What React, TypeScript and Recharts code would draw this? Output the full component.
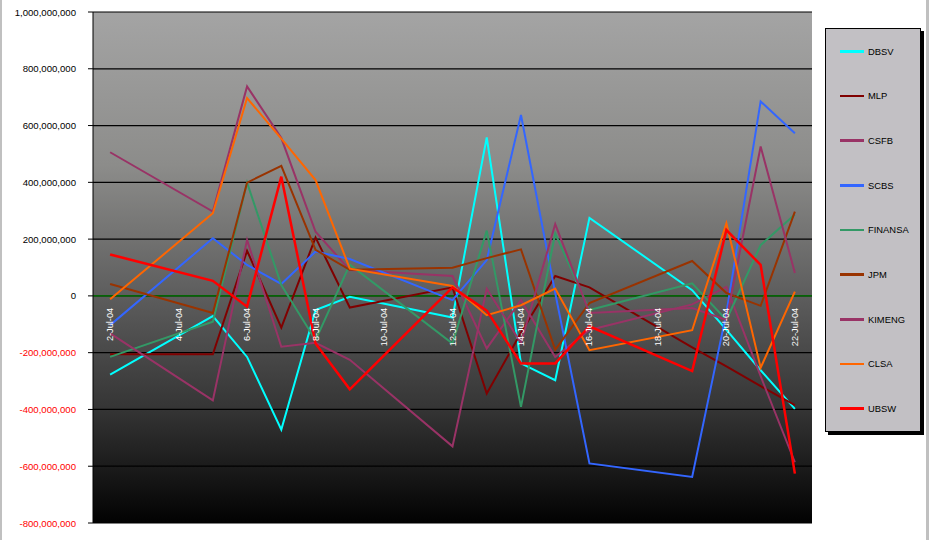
import { LineChart, Line, XAxis, YAxis, CartesianGrid, ReferenceLine } from 'recharts';

// trading days in July 2004
const days = [2, 5, 6, 7, 8, 9, 12, 13, 14, 15, 16, 19, 20, 21, 22];
const dayTicks = [2, 4, 6, 8, 10, 12, 14, 16, 18, 20, 22];
const yTicks = [-800000000, -600000000, -400000000, -200000000, 0, 200000000, 400000000, 600000000, 800000000, 1000000000];

// values, in millions
const dbsv = [-277, -71, -215, -471, -50, -3, -76, 558, -238, -297, 275, 20, -120, -262, -398];
const mlp = [-206, -206, 159, -112, 206, -41, 30, -344, -130, 70, 30, -181, -248, -318, -385];
const csfb = [506, 297, 738, 556, 226, 91, 70, -185, -15, -215, -120, -30, 32, -283, -586];
const scbs = [-103, 203, 109, 42, 156, 130, -15, 126, 637, 10, -590, -638, -60, 685, 573];
const finansa = [-215, -91, 399, 38, -156, 110, -168, 230, -391, 220, -50, 44, -85, 179, 287];
const jpm = [42, -60, 399, 458, 162, 92, 99, 133, 164, -190, -25, 123, 10, -35, 297];
const kimeng = [-132, -368, 197, -179, -165, -225, -530, 25, -166, 253, -60, -43, -85, 526, 81];
const clsa = [-12, 291, 697, 554, 408, 96, 35, -68, -33, 26, -191, -121, 256, -253, 15];
const ubsw = [146, 53, -38, 420, -168, -329, 30, -52, -238, -238, -107, -265, 232, 109, -626];

const series = [
  { key: 'DBSV', values: dbsv, color: '#00ffff', width: 2 },
  { key: 'MLP', values: mlp, color: '#800000', width: 2 },
  { key: 'CSFB', values: csfb, color: '#993366', width: 2 },
  { key: 'SCBS', values: scbs, color: '#3366ff', width: 2 },
  { key: 'FINANSA', values: finansa, color: '#339966', width: 2 },
  { key: 'JPM', values: jpm, color: '#993300', width: 2 },
  { key: 'KIMENG', values: kimeng, color: '#993366', width: 2 },
  { key: 'CLSA', values: clsa, color: '#ff6600', width: 2 },
  { key: 'UBSW', values: ubsw, color: '#ff0000', width: 2.5 },
];

const data = days.map((day, i) => {
  const row: Record<string, number> = { day };
  series.forEach((s) => {
    row[s.key] = s.values[i] * 1000000;
  });
  return row;
});

const W = 929;
const H = 540;
const X_AXIS_H = 17;
const MARGIN = { top: 12, right: 117, bottom: 0, left: 0 };
const Y_MIN = -800000000;
const Y_MAX = 1000000000;
const PLOT_H = H - MARGIN.top - MARGIN.bottom - X_AXIS_H;
const ZERO_Y = MARGIN.top + (PLOT_H * Y_MAX) / (Y_MAX - Y_MIN);
const FONT = '"Liberation Sans", Arial, sans-serif';

function DateTick(props: any) {
  const { x, payload } = props;
  return (
    <text
      transform={`translate(${x},${ZERO_Y + 12}) rotate(-90)`}
      textAnchor="end"
      dominantBaseline="central"
      fill="#ffffff"
      fontSize={9.2}
      fontFamily={FONT}
    >
      {`${payload.value}-Jul-04`}
    </text>
  );
}

function ValueTick(props: any) {
  const { x, y, payload } = props;
  const v = payload.value as number;
  return (
    <text
      x={x - 10}
      y={y}
      textAnchor="end"
      dominantBaseline="central"
      fill={v < 0 ? '#ff0000' : '#000000'}
      fontSize={9.6}
      fontFamily={FONT}
    >
      {v.toLocaleString('en-US')}
    </text>
  );
}

function LegendBox() {
  return (
    <div
      style={{
        position: 'absolute',
        left: 825,
        top: 28,
        width: 94,
        height: 402,
        border: '1px solid #000',
        background: '#c2c0c4',
        boxShadow: '3px 3px 0 #000',
        display: 'flex',
        flexDirection: 'column',
        justifyContent: 'space-around',
        fontFamily: FONT,
        fontSize: 9.4,
        color: '#000',
      }}
    >
      {series.map((s) => (
        <div key={s.key} style={{ display: 'flex', alignItems: 'center', height: 12 }}>
          <div style={{ marginLeft: 14, width: 24, height: 2.5, background: s.color }} />
          <span style={{ marginLeft: 4 }}>{s.key}</span>
        </div>
      ))}
    </div>
  );
}

export default function App() {
  return (
    <div
      style={{
        position: 'absolute',
        left: 0,
        top: 0,
        width: W,
        height: H,
        background: '#ffffff',
        boxShadow: 'inset 2px 0 0 #c0c0c0, inset -3px 0 0 #c0c0c0',
      }}
    >
      <LineChart width={W} height={H} data={data} margin={MARGIN}>
        <defs>
          <linearGradient id="plotBg" x1="0" y1="0" x2="0" y2="1">
            <stop offset="0%" stopColor="#a4a4a4" />
            <stop offset="30%" stopColor="#8c8c8a" />
            <stop offset="55%" stopColor="#5e5e5e" />
            <stop offset="78%" stopColor="#343434" />
            <stop offset="100%" stopColor="#020202" />
          </linearGradient>
        </defs>
        <CartesianGrid
          vertical={false}
          stroke="#000000"
          strokeWidth={1.2}
          fill="url(#plotBg)"
          fillOpacity={1}
        />
        <XAxis
          dataKey="day"
          type="number"
          domain={[1.5, 22.5]}
          ticks={dayTicks}
          axisLine={false}
          tickLine={false}
          height={X_AXIS_H}
          tick={<DateTick />}
          interval={0}
        />
        <YAxis
          width={93}
          domain={[Y_MIN, Y_MAX]}
          ticks={yTicks}
          interval={0}
          axisLine={{ stroke: '#000000' }}
          tickLine={{ stroke: '#000000' }}
          tickSize={5}
          tick={<ValueTick />}
        />
        <ReferenceLine y={0} stroke="#008000" strokeWidth={1.2} />
        {series.map((s) => (
          <Line
            key={s.key}
            type="linear"
            dataKey={s.key}
            stroke={s.color}
            strokeWidth={s.width}
            dot={false}
            activeDot={false}
            isAnimationActive={false}
          />
        ))}
      </LineChart>
      <LegendBox />
    </div>
  );
}
